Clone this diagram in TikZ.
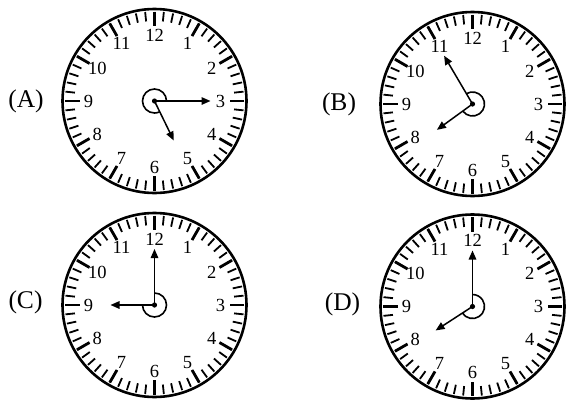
\documentclass[tikz,border=0pt]{standalone}
\usepackage{fontspec}
\setmainfont{Liberation Serif}
\usetikzlibrary{arrows.meta}
\tikzset{
  rim/.style={line width=2.6pt},
  hourtick/.style={line width=2.8pt},
  mintick/.style={line width=1.8pt},
  hand/.style={line width=1.5pt,-{Triangle[length=9pt,width=7.5pt]}},
  ring/.style={line width=1.6pt},
  num/.style={inner sep=0pt,font=\fontsize{18.5}{20}\selectfont},
  lab/.style={inner sep=0pt,font=\fontsize{25.5}{28}\selectfont},
  pics/clock/.style n args={4}{code={
    \coordinate (-c) at (0,0);
    \draw[rim] (-c) circle (92pt);
    \foreach \a in {0,6,...,354}{\draw[mintick] (\a:89.5pt) -- (\a:80pt);}
    \foreach \a in {0,30,...,330}{\draw[hourtick] (\a:89.5pt) -- (\a:75pt);}
    \foreach \n in {1,...,12}{\node[num] (-n\n) at ({90-30*\n}:66pt) {\n};}
    \coordinate (-m) at (#1:56pt);
    \coordinate (-h) at (#2:44pt);
    \draw[ring] (#3:12pt) arc[start angle=#3, end angle=#4, radius=12pt];
    \draw[hand] (-c) -- (-m);
    \draw[hand] (-c) -- (-h);
    \fill (-c) circle (2.6pt);
  }}
}
\begin{document}
\begin{tikzpicture}[x=1pt,y=-1pt]
\useasboundingbox (0,0) rectangle (566,400);
\pic (A) at (154.5,101) {clock={0}{-64}{0}{296}};
\pic (B) at (472.5,104) {clock={120.5}{216}{216}{480.5}};
\pic (C) at (154.5,305) {clock={90}{180}{180}{450}};
\pic (D) at (472.5,306.5) {clock={90}{213}{213}{450}};
\node[lab] (labA) at (26,101) {(A)};
\node[lab] (labB) at (339,104) {(B)};
\node[lab] (labC) at (25.5,302) {(C)};
\node[lab] (labD) at (342.5,304) {(D)};
\end{tikzpicture}
\end{document}
